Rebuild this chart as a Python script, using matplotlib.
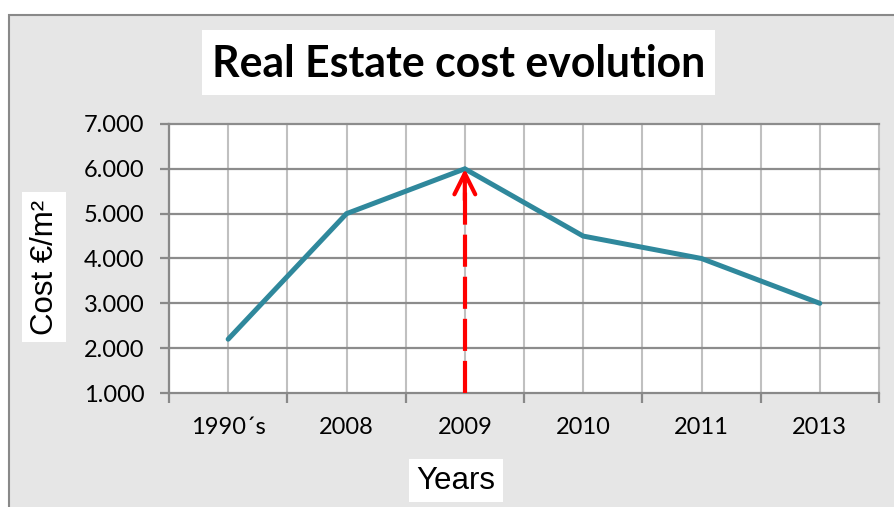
import matplotlib.pyplot as plt
from matplotlib.patches import Rectangle

# cost per square metre by period
years = ['1990\u00b4s', '2008', '2009', '2010', '2011', '2013']
cost = [2200, 5000, 6000, 4500, 4000, 3000]
y_ticks = [1000, 2000, 3000, 4000, 5000, 6000, 7000]
peak_idx = 2

W, H = 894, 507
fig = plt.figure(figsize=(W / 100, H / 100), dpi=100)
fig.patch.set_facecolor('white')


def px(x, y):
    return x / W, 1 - y / H


# grey chart panel behind everything
fig.patches.append(Rectangle(px(9, 520), 900 / W, 505 / H, transform=fig.transFigure,
                             facecolor='#e6e6e6', edgecolor='#898989', lw=1.5, zorder=-5))

ax = fig.add_axes([169 / W, 1 - 393 / H, (879 - 169) / W, (393 - 124) / H])
ax.set_facecolor('white')

x = list(range(len(years)))
ax.set_xlim(-0.5, len(years) - 0.5)
ax.set_ylim(y_ticks[0], y_ticks[-1])

# gridlines: dark horizontal, light vertical at centres and boundaries
for yv in y_ticks[1:]:
    ax.axhline(yv, color='#8c8c8c', lw=1.6, zorder=1, clip_on=False)
for i in range(2 * len(years) + 1):
    ax.axvline(-0.5 + i * 0.5, color='#c0c0c0', lw=1.5, zorder=0.9, clip_on=False)

ax.plot(x, cost, color='#2f889c', lw=3.6, zorder=3, solid_joinstyle='miter',
        solid_capstyle='round')

# red dashed arrow pointing up at the peak
ax.plot([x[peak_idx], x[peak_idx]], [y_ticks[0], cost[peak_idx] - 300], color='red',
        lw=3, dashes=(7.7, 2.4), zorder=4, solid_capstyle='butt')
ax.annotate('', xy=(x[peak_idx], cost[peak_idx]), xytext=(x[peak_idx], cost[peak_idx] - 700),
            arrowprops=dict(arrowstyle='->,head_length=1.5,head_width=0.75',
                            color='red', lw=3, shrinkA=0, shrinkB=0), zorder=4)

for side in ['top', 'right']:
    ax.spines[side].set_visible(False)
for side in ['left', 'bottom']:
    ax.spines[side].set_color('#898989')
    ax.spines[side].set_linewidth(1.6)
    ax.spines[side].set_zorder(2)

ax.set_xticks(x)
ax.set_xticklabels(years)
ax.set_xticks([i - 0.5 for i in range(len(years) + 1)], minor=True)
ax.tick_params(axis='x', which='major', length=0, pad=17)
ax.tick_params(axis='x', which='minor', length=7, width=1.6, color='#898989', direction='out')
ax.set_yticks(y_ticks)
ax.set_yticklabels([f'{v:,}'.replace(',', '.') for v in y_ticks])
ax.tick_params(axis='y', length=6.5, width=1.6, color='#898989', direction='out', pad=11)
for lbl in ax.get_xticklabels() + ax.get_yticklabels():
    lbl.set_fontfamily('Lato')
    lbl.set_fontsize(17)

# title in a white box
fig.patches.append(Rectangle(px(202, 95), 513 / W, 65 / H, transform=fig.transFigure,
                             facecolor='white', edgecolor='none', zorder=1))
fig.text(*px(458.5, 64), 'Real Estate cost evolution', ha='center', va='center',
         fontsize=30.8, fontweight='bold', family='Lato', zorder=2)

# axis titles in white boxes
fig.patches.append(Rectangle(px(22, 342), 44 / W, 150 / H, transform=fig.transFigure,
                             facecolor='white', edgecolor='none', zorder=1))
fig.text(*px(45, 267), 'Cost \u20ac/m\u00b2', rotation=90, ha='center', va='center',
         fontsize=22.5, family='Liberation Sans', zorder=2)
fig.patches.append(Rectangle(px(409, 502), 94 / W, 43 / H, transform=fig.transFigure,
                             facecolor='white', edgecolor='none', zorder=1))
fig.text(*px(456, 481), 'Years', ha='center', va='center',
         fontsize=22.5, family='Liberation Sans', zorder=2)

fig.savefig('out.png', dpi=100)
